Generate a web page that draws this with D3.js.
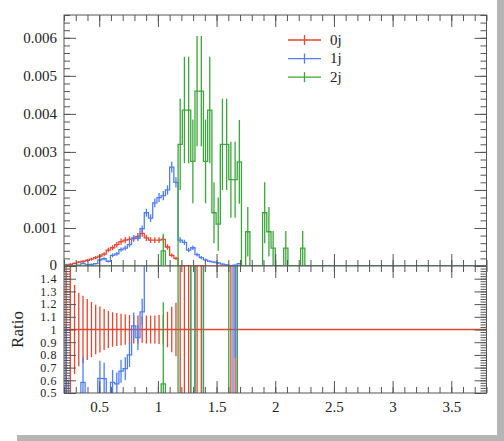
<!DOCTYPE html>
<html>
<head>
<meta charset="utf-8">
<script src="https://cdn.jsdelivr.net/npm/d3@7"></script>
<style>
    body { margin: 0; background: #fff; }
    svg text { font-family: "Liberation Serif", serif; fill: #222; }
    .tick line { stroke: #555; }
</style>
</head>
<body>
<div id="chart"></div>
<script>
// bin structure: 100 bins between 0.2 and 3.8
const xLo = 0.2
const xHi = 3.8
const binWidth = 0.036
const xEdges = d3.range(101).map(i => xLo + i * binWidth)

const seriesNames = ['0j', '1j', '2j']
const seriesColors = ['#e4462f', '#4f7ef0', '#3ca63c']

// 0j (reference), values and stat errors per bin from the first bin
const zeroJetVals = [0.00003, 0.00004, 0.00007, 0.0001, 0.00012, 0.00015, 0.00018, 0.00022, 0.00026, 0.00031,
    0.00042, 0.00048, 0.00056, 0.00064, 0.00068, 0.0007, 0.00072, 0.00078, 0.00086, 0.00074,
    0.00068, 0.00068, 0.00068, 0.0007, 0.0005, 0.00028, 0.0002, 0.000009, 0.000009, 0.000009,
    0, 0.000009, 0.000009, 0, 0, 0, 0, 0, 0, 0.000009, 0.000009]
const zeroJetErrs = [0.00003, 0.00003, 0.0000245, 0.000029, 0.000032, 0.000036, 0.000039, 0.000043, 0.000047, 0.00005,
    0.000061, 0.000065, 0.000073, 0.00008, 0.000082, 0.00008, 0.00008, 0.000086, 0.00009, 0.000081,
    0.000075, 0.000075, 0.000078, 0.00008, 0.00007, 0.00005, 0.000042, 0.000009, 0.000009, 0.000009,
    0, 0.000009, 0.000009, 0, 0, 0, 0, 0, 0, 0.000009, 0.000009]

const oneJetVals = [0.000018, 0.00001, 0, 0.00002, 0.00007, 0.00003, 0.00004, 0.00006, 0.00016, 0.00019,
    0.00012, 0.00028, 0.00032, 0.00043, 0.00047, 0.00056, 0.00074, 0.00073, 0.00098, 0.0014,
    0.00126, 0.00166, 0.0018, 0.00185, 0.002, 0.0026, 0.0022, 0.00068, 0.00062, 0.00042,
    0.00048, 0.0003, 0.00022, 0.00016, 0.00012, 0.0001, 0.00008, 0.00005, 0.00003, 0,
    0.00002, 0.00006]
const oneJetErrs = [0.000013, 0.00001, 0, 0.000013, 0.000024, 0.000015, 0.000018, 0.000022, 0.000036, 0.000039,
    0.000031, 0.000047, 0.00005, 0.000058, 0.000061, 0.000067, 0.000077, 0.000076, 0.000088, 0.000106,
    0.0001, 0.000115, 0.00012, 0.000122, 0.000126, 0.000144, 0.000133, 0.000074, 0.00007, 0.000058,
    0.000062, 0.000049, 0.000042, 0.000036, 0.000031, 0.000028, 0.000025, 0.00002, 0.000015, 0,
    0.000013, 0.000022]

const twoJetVals = [0, 0, 0, 0, 0, 0, 0, 0, 0, 0,
    0, 0, 0, 0, 0, 0, 0, 0, 0, 0,
    0, 0, 0, 0.0004, 0, 0, 0, 0.0032, 0.0041, 0.0041,
    0.00275, 0.0046, 0.0046, 0.00275, 0.0041, 0.0014, 0.0011, 0.0032, 0.0032, 0.00227,
    0.00227, 0.00274, 0, 0.0009, 0, 0, 0, 0.0014, 0.0009, 0.00047,
    0, 0, 0.00047, 0, 0, 0, 0.00047]
const twoJetErrs = [0, 0, 0, 0, 0, 0, 0, 0, 0, 0,
    0, 0, 0, 0, 0, 0, 0, 0, 0, 0,
    0, 0, 0, 0.00045, 0, 0, 0, 0.0012, 0.0014, 0.0014,
    0.0011, 0.00145, 0.00145, 0.0011, 0.0014, 0.0008, 0.0007, 0.0012, 0.0012, 0.001,
    0.001, 0.0011, 0, 0.00065, 0, 0, 0, 0.0008, 0.00065, 0.00045,
    0, 0, 0.00045, 0, 0, 0, 0.00045]

const mainTicks = [0, 0.001, 0.002, 0.003, 0.004, 0.005, 0.006]
const ratioTicks = [0.5, 0.6, 0.7, 0.8, 0.9, 1, 1.1, 1.2, 1.3, 1.4]
const xTicks = [0.5, 1, 1.5, 2, 2.5, 3, 3.5]

drawChart()
function drawChart() {
    const dim = { width: 504, height: 441, left: 64, right: 486.5, top: 15, split: 266, bottom: 393 }

    const nBins = xEdges.length - 1
    const pad = arr => d3.range(nBins).map(i => arr[i] || 0)
    const series = [
        { vals: pad(zeroJetVals), errs: pad(zeroJetErrs) },
        { vals: pad(oneJetVals), errs: pad(oneJetErrs) },
        { vals: pad(twoJetVals), errs: pad(twoJetErrs) }
    ]
    const ref = series[0]

    const svg = d3.select('#chart').append('svg')
        .attr('width', dim.width).attr('height', dim.height)

    // drop shadow of the image box
    svg.append('rect').attr('x', 497).attr('y', 0).attr('width', 7).attr('height', dim.height).attr('fill', '#b5b5b5')
    svg.append('rect').attr('x', 17).attr('y', 435).attr('width', dim.width - 17).attr('height', 6).attr('fill', '#b5b5b5')

    const xScale = d3.scaleLinear().domain([xLo, xHi]).range([dim.left, dim.right])
    const yScale = d3.scaleLinear().domain([0, 0.0066]).range([dim.split, dim.top])
    const rScale = d3.scaleLinear().domain([0.5, 1.5]).range([dim.bottom, dim.split])

    const defs = svg.append('defs')
    defs.append('clipPath').attr('id', 'clip-main').append('rect')
        .attr('x', dim.left).attr('y', dim.top)
        .attr('width', dim.right - dim.left).attr('height', dim.split - dim.top)
    defs.append('clipPath').attr('id', 'clip-ratio').append('rect')
        .attr('x', dim.left).attr('y', dim.split)
        .attr('width', dim.right - dim.left).attr('height', dim.bottom - dim.split)

    const clampR = v => Math.max(-2, Math.min(4, v))
    const stepLine = (ys) => d3.line()
        .x(d => xScale(d[0])).y(d => ys(d[1]))
        .curve(d3.curveStepAfter)

    function stepPoints(vals) {
        const pts = vals.map((v, i) => [xEdges[i], v])
        pts.push([xEdges[nBins], vals[nBins - 1]])
        return pts
    }

    // main panel
    const main = svg.append('g').attr('clip-path', 'url(#clip-main)')
    series.forEach((s, k) => {
        const g = main.append('g')
        g.selectAll('line').data(s.vals.map((v, i) => ({ v, e: s.errs[i], i })).filter(d => d.e > 0))
            .join('line')
            .attr('x1', d => xScale(xEdges[d.i] + binWidth / 2))
            .attr('x2', d => xScale(xEdges[d.i] + binWidth / 2))
            .attr('y1', d => yScale(d.v - d.e))
            .attr('y2', d => yScale(d.v + d.e))
            .attr('stroke', seriesColors[k]).attr('stroke-width', 1.3)
        g.append('path').attr('d', stepLine(yScale)(stepPoints(s.vals)))
            .attr('fill', 'none').attr('stroke', seriesColors[k]).attr('stroke-width', 1.3)
    })

    // ratio panel, everything divided by 0j
    const ratioG = svg.append('g').attr('clip-path', 'url(#clip-ratio)')
    series.forEach((s, k) => {
        const g = ratioG.append('g')
        const rat = s.vals.map((v, i) => {
            if (k == 0) return { r: 1, e: ref.vals[i] > 0 ? s.errs[i] / ref.vals[i] : 0, i }
            if (ref.vals[i] <= 0) return { r: 0, e: 0, i }
            return { r: v / ref.vals[i], e: s.errs[i] / ref.vals[i], i }
        })
        g.selectAll('line').data(rat.filter(d => d.e > 0))
            .join('line')
            .attr('x1', d => xScale(xEdges[d.i] + binWidth / 2))
            .attr('x2', d => xScale(xEdges[d.i] + binWidth / 2))
            .attr('y1', d => rScale(clampR(d.r - d.e)))
            .attr('y2', d => rScale(clampR(d.r + d.e)))
            .attr('stroke', seriesColors[k]).attr('stroke-width', 1.3)
        g.append('path').attr('d', stepLine(v => rScale(clampR(v)))(stepPoints(rat.map(d => d.r))))
            .attr('fill', 'none').attr('stroke', seriesColors[k]).attr('stroke-width', 1.3)
    })

    // axes with inward ticks
    const xMinor = d3.range(2, 39).map(d => d / 10)
    const yMinor = d3.range(0, 34).map(d => d * 0.0002)
    const rMinor = d3.range(25, 76).map(d => d / 50)

    function addAxis(axisFn, scale, transform, major, minor, fmt, padding) {
        const g = svg.append('g').attr('transform', transform)
        g.call(axisFn(scale).tickValues(minor).tickSize(-6).tickFormat(''))
        const gm = svg.append('g').attr('transform', transform)
        gm.call(axisFn(scale).tickValues(major).tickSize(-12).tickPadding(padding || 3)
            .tickFormat(fmt || ''))
        g.select('.domain').remove()
        gm.select('.domain').remove()
        return gm
    }
    const noLabel = () => ''
    addAxis(d3.axisTop, xScale, `translate(0,${dim.top})`, xTicks, xMinor, noLabel)
    addAxis(d3.axisBottom, xScale, `translate(0,${dim.split})`, xTicks, xMinor, noLabel)
    addAxis(d3.axisTop, xScale, `translate(0,${dim.split})`, xTicks, xMinor, noLabel)
    const xAx = addAxis(d3.axisBottom, xScale, `translate(0,${dim.bottom})`, xTicks, xMinor, d3.format('~g'), 8)
    const yAx = addAxis(d3.axisLeft, yScale, `translate(${dim.left},0)`, mainTicks, yMinor,
        d => d == 0 ? '0' : d3.format('.3f')(d), 7)
    addAxis(d3.axisRight, yScale, `translate(${dim.right},0)`, mainTicks, yMinor, noLabel)
    const rAx = addAxis(d3.axisLeft, rScale, `translate(${dim.left},0)`, ratioTicks, rMinor, d3.format('~g'), 7)
    addAxis(d3.axisRight, rScale, `translate(${dim.right},0)`, ratioTicks, rMinor, noLabel)

    svg.selectAll('.tick text').style('font-size', '15px').attr('fill', '#222')
    rAx.selectAll('.tick text').style('font-size', '12px').style('letter-spacing', '0.6px')
    yAx.selectAll('.tick text').filter(d => d == 0).attr('dy', '0.2em')

    // frame
    svg.append('rect')
        .attr('x', dim.left).attr('y', dim.top)
        .attr('width', dim.right - dim.left).attr('height', dim.bottom - dim.top)
        .attr('fill', 'none').attr('stroke', '#555')
    svg.append('line')
        .attr('x1', dim.left).attr('x2', dim.right)
        .attr('y1', dim.split).attr('y2', dim.split)
        .attr('stroke', '#555')

    svg.append('text')
        .attr('transform', `translate(23,${rScale(1)}) rotate(-90)`)
        .attr('text-anchor', 'middle')
        .style('font-size', '17px')
        .text('Ratio')

    // legend
    const legend = svg.append('g').attr('transform', 'translate(288,40)')
    seriesNames.forEach((name, k) => {
        const row = legend.append('g').attr('transform', `translate(0,${k * 18.6})`)
        row.append('line').attr('x1', 0).attr('x2', 33).attr('y1', 0).attr('y2', 0)
            .attr('stroke', seriesColors[k]).attr('stroke-width', 1.3)
        row.append('line').attr('x1', 16.5).attr('x2', 16.5).attr('y1', -5).attr('y2', 5)
            .attr('stroke', seriesColors[k]).attr('stroke-width', 1.3)
        row.append('text').attr('x', 42).attr('y', 0).attr('dy', '0.32em')
            .style('font-size', '15px').text(name)
    })
}
</script>
</body>
</html>
